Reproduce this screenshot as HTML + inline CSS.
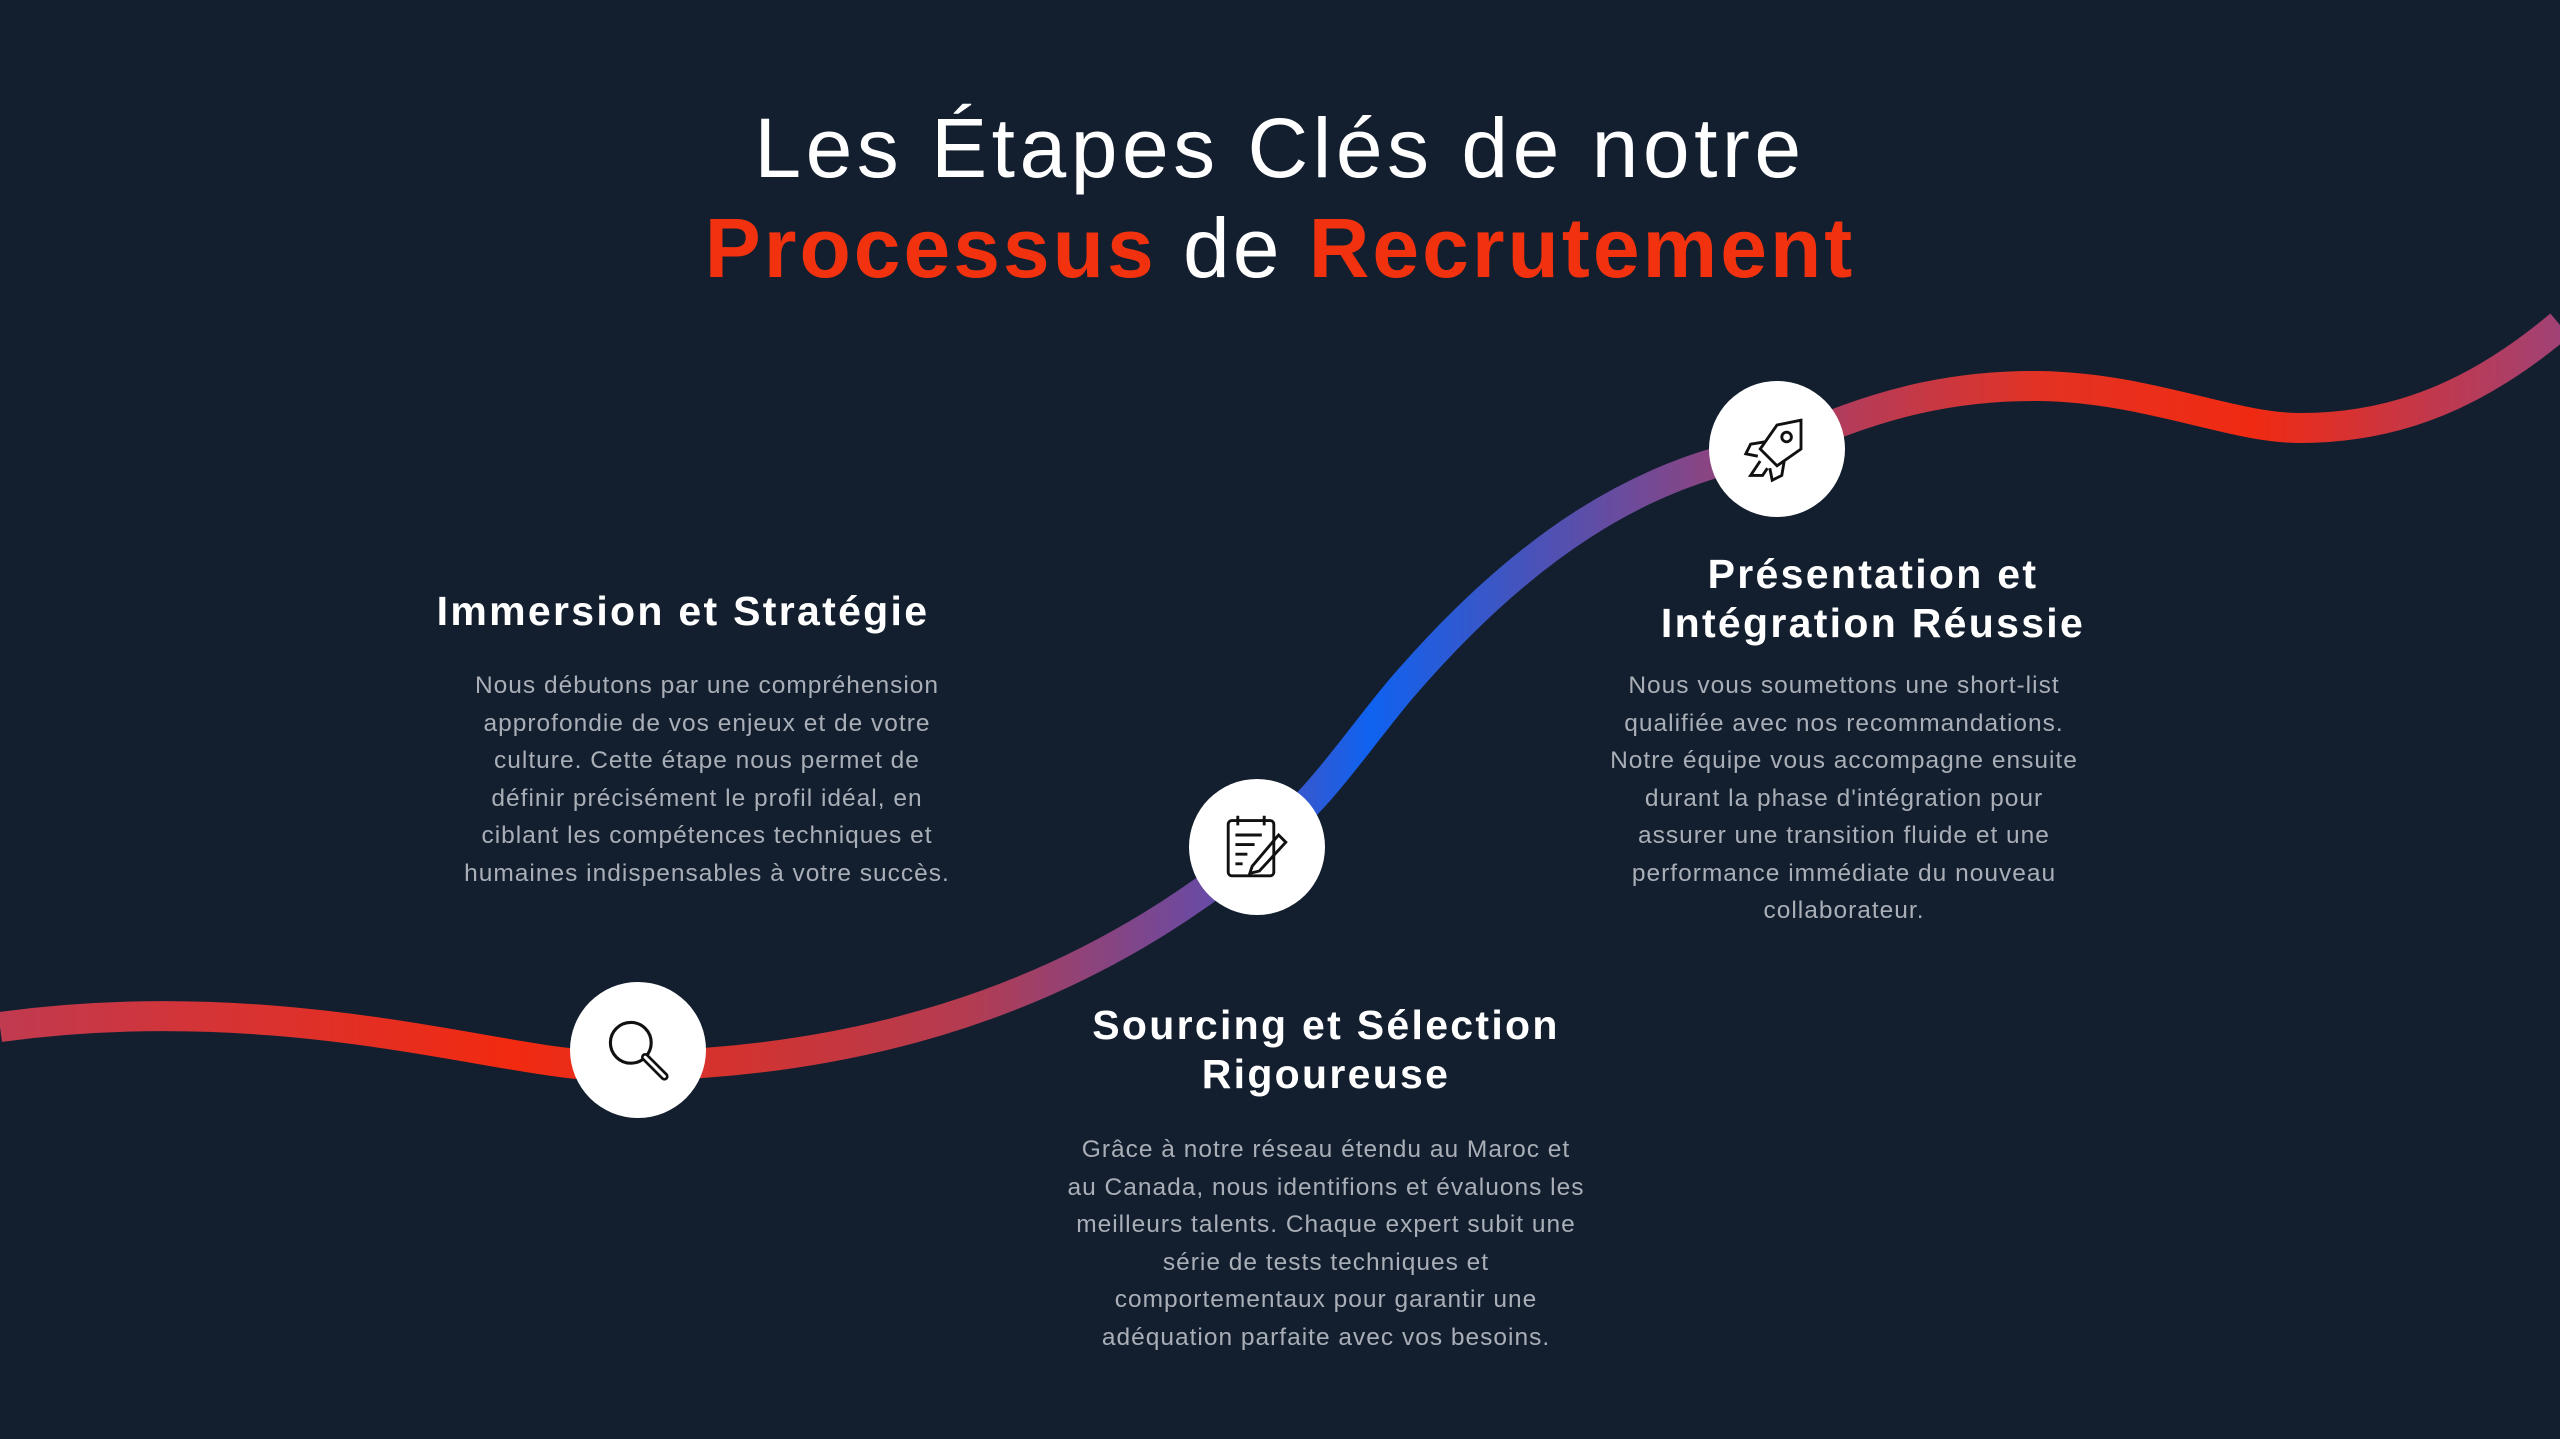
<!DOCTYPE html>
<html><head><meta charset="utf-8"><style>
html,body{margin:0;padding:0}
body{width:2560px;height:1439px;background:#131f2f;position:relative;overflow:hidden;font-family:"Liberation Sans",sans-serif}
.t{position:absolute;left:0;width:2560px;text-align:center;color:#fff;font-size:84px;line-height:100px}
.r{color:#f2320f;font-weight:bold}
.h{position:absolute;color:#fff;font-weight:bold;font-size:41px;line-height:49px;text-align:center;transform:translateX(-50%);white-space:nowrap;letter-spacing:2.3px}
.p{position:absolute;color:#a9aeb7;font-size:24.5px;line-height:37.5px;text-align:center;transform:translateX(-50%);white-space:nowrap;letter-spacing:1px}
.c{position:absolute;width:136px;height:136px;border-radius:50%;background:#fff;margin:-68px 0 0 -68px}
.c svg{position:absolute;left:32px;top:32px}
</style></head><body>
<div class="t" style="top:98px;letter-spacing:4.5px;font-weight:300">Les Étapes Clés de notre</div>
<div class="t" style="top:198px;letter-spacing:3px"><span class="r">Processus</span> de <span class="r">Recrutement</span></div>
<svg width="2560" height="1439" style="position:absolute;left:0;top:0">
<defs><linearGradient id="g" gradientUnits="userSpaceOnUse" x1="0" y1="0" x2="2560" y2="0">
<stop offset="0" stop-color="#c03a50"/>
<stop offset="0.2" stop-color="#f22a10"/>
<stop offset="0.38" stop-color="#b23c52"/>
<stop offset="0.47" stop-color="#6a4aa2"/>
<stop offset="0.535" stop-color="#0f62f0"/>
<stop offset="0.6" stop-color="#4a52b8"/>
<stop offset="0.69" stop-color="#a04070"/>
<stop offset="0.8" stop-color="#e43222"/>
<stop offset="0.88" stop-color="#f02a12"/>
<stop offset="1" stop-color="#a04275"/>
</linearGradient></defs>
<path d="M0,1027 C250,993 450,1048 560,1062 C600,1067 620,1067 640,1066 C900,1060 1100,980 1257,850 C1320,800 1350,750 1400,690 C1520,550 1640,470 1777,449 C1880,400 1960,385 2040,386 C2150,388 2230,428 2300,428 C2400,428 2480,392 2560,325" fill="none" stroke="url(#g)" stroke-width="30"/>
</svg>
<div class="c" style="left:638px;top:1050px"><svg width="72" height="72" viewBox="0 0 60 60" fill="none" stroke="#111" stroke-width="2.6"><circle cx="24" cy="24" r="17"/><path d="M36 36 L52 52" stroke-width="7" stroke-linecap="round"/><path d="M36 36 L52 52" stroke="#fff" stroke-width="2.5" stroke-linecap="round"/></svg></div>
<div class="c" style="left:1257px;top:847px"><svg width="72" height="72" viewBox="0 0 60 60" fill="none" stroke="#111" stroke-width="2.4"><rect x="6" y="8" width="38" height="46" rx="3"/><path d="M14 4v8M36 4v8M12 20h22M12 28h16M12 36h10M12 44h6"/><path d="M26 46 L48 20 L54 26 L32 50 L24 52 Z"/></svg></div>
<div class="c" style="left:1777px;top:449px"><svg width="72" height="72" viewBox="0 0 60 60" fill="none" stroke="#111" stroke-width="2.4"><path d="M50 6 L30 10 L16 30 L30 44 L50 30 Z"/><circle cx="38" cy="20" r="4"/><path d="M20 24 L8 26 L4 34 L14 36"/><path d="M36 40 L34 52 L26 56 L24 46"/><path d="M16 40 L8 52 L18 52 L22 46"/></svg></div>
<div class="h" style="left:683px;top:587px">Immersion et Stratégie</div>
<div class="p" style="left:707px;top:667px">Nous débutons par une compréhension<br>approfondie de vos enjeux et de votre<br>culture. Cette étape nous permet de<br>définir précisément le profil idéal, en<br>ciblant les compétences techniques et<br>humaines indispensables à votre succès.</div>
<div class="h" style="left:1326px;top:1001px">Sourcing et Sélection<br>Rigoureuse</div>
<div class="p" style="left:1326px;top:1131px">Grâce à notre réseau étendu au Maroc et<br>au Canada, nous identifions et évaluons les<br>meilleurs talents. Chaque expert subit une<br>série de tests techniques et<br>comportementaux pour garantir une<br>adéquation parfaite avec vos besoins.</div>
<div class="h" style="left:1873px;top:550px">Présentation et<br>Intégration Réussie</div>
<div class="p" style="left:1844px;top:667px">Nous vous soumettons une short-list<br>qualifiée avec nos recommandations.<br>Notre équipe vous accompagne ensuite<br>durant la phase d'intégration pour<br>assurer une transition fluide et une<br>performance immédiate du nouveau<br>collaborateur.</div>
</body></html>
